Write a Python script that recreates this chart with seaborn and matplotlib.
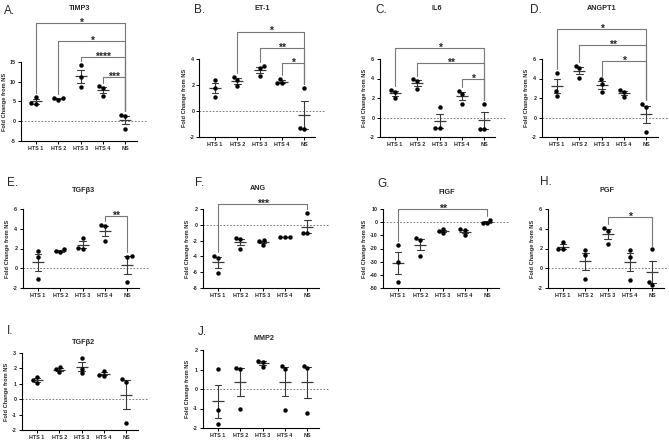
import numpy as np
import pandas as pd
import matplotlib
matplotlib.use('Agg')
import matplotlib.pyplot as plt
import seaborn as sns

groups = ['HTS 1', 'HTS 2', 'HTS 3', 'HTS 4', 'NS']

timp3 = [[6.1, 4.4, 4.5], [5.4, 5.8, 5.8], [14.3, 11.3, 8.6], [8.8, 8.4, 6.4], [1.4, 1.5, -1.9]]
et1 = [[2.4, 1.75, 1.1], [2.6, 2.4, 1.9], [3.5, 3.3, 2.7], [2.45, 2.15, 2.15], [1.8, -1.3, -1.4]]
il6 = [[2.8, 2.6, 2.0], [3.9, 3.7, 2.95], [1.05, -1.1, -1.1], [2.75, 2.4, 1.4], [1.4, -1.15, -1.15]]
angpt1 = [[4.6, 2.7, 2.25], [5.3, 5.05, 4.1], [3.9, 3.45, 2.65], [2.8, 2.6, 2.1], [1.35, 1.1, -1.5]]
tgfb3 = [[1.75, 1.15, -1.05], [1.95, 1.7, 1.65], [3.05, 2.1, 2.0], [4.4, 4.25, 2.75], [1.25, 1.15, -1.42]]
ang = [[-3.95, -4.15, -6.1], [-1.7, -1.8, -3.05], [-1.95, -2.1, -2.5], [-1.57, -1.57, -1.57], [1.45, -1.1, -1.1]]
figf = [[-17.2, -30.0, -45.6], [-12.0, -13.8, -25.6], [-4.9, -6.9, -8.5], [-5.4, -6.0, -10.0], [1.8, -0.5, -1.0]]
pgf = [[2.65, 1.95, 1.9], [1.83, 1.32, -1.05], [4.1, 3.8, 2.47], [1.8, 1.15, -1.15], [1.9, -1.35, -1.65]]
tgfb2 = [[1.42, 1.25, 1.07], [2.06, 1.93, 1.74], [2.69, 1.98, 1.68], [1.85, 1.53, 1.55], [1.29, 1.14, -1.53]]
mmp2 = [[1.03, -1.09, -1.8], [1.09, 1.05, -1.04], [1.45, 1.38, 1.15], [1.18, 1.03, -1.06], [1.2, 1.06, -1.25]]

titles = ['TIMP3', 'ET-1', 'IL6', 'ANGPT1', 'TGF\u03b23', 'ANG', 'FIGF', 'PGF', 'TGF\u03b22', 'MMP2']
letters = ['A.', 'B.', 'C.', 'D.', 'E.', 'F.', 'G.', 'H.', 'I.', 'J.']
datasets = [timp3, et1, il6, angpt1, tgfb3, ang, figf, pgf, tgfb2, mmp2]

yticks_list = [
    [-5, 0, 5, 10, 15], [-2, 0, 2, 4], [-2, 0, 2, 4, 6], [-2, 0, 2, 4, 6],
    [-2, 0, 2, 4, 6], [-8, -6, -4, -2, 0, 2], [-50, -40, -30, -20, -10, 0, 10],
    [-2, 0, 2, 4, 6], [-2, -1, 0, 1, 2, 3], [-2, -1, 0, 1, 2],
]

# significance brackets: (group i, group j, label, bracket height in data units)
brackets = [
    [(0, 4, '*', 24.9), (1, 4, '*', 20.3), (2, 4, '****', 16.3), (3, 4, '***', 11.2)],
    [(1, 4, '*', 6.1), (2, 4, '**', 4.85), (3, 4, '*', 3.7)],
    [(0, 4, '*', 7.1), (1, 4, '**', 5.56), (3, 4, '*', 3.97)],
    [(0, 4, '*', 9.05), (1, 4, '**', 7.4), (2, 4, '*', 5.8)],
    [(3, 4, '**', 5.3)],
    [(0, 4, '***', 2.64)],
    [(0, 4, '**', 9.7)],
    [(2, 4, '*', 5.15)],
    [],
    [],
]

# layout in pixels: (left, top, bottom)
W, H = 669, 443
rects = [(20.5, 62, 141), (199.5, 59, 137), (379.5, 59, 137), (541.5, 59, 137),
         (22.5, 209, 288), (202.5, 209, 288), (382.5, 209, 288), (547.5, 209, 288),
         (21.5, 353, 430), (202.5, 350, 428)]
title_pos = [(80, 9), (262, 9), (437, 9), (602, 9), (83, 191), (258, 188),
             (447, 193), (607, 191), (83, 343), (264, 339)]
letter_pos = [(4, 11), (194, 10), (375, 10), (530, 10), (7, 183), (195, 183),
              (377, 184), (540, 182), (7, 331), (198, 332)]
AX_W = 116

sns.set_theme(style='ticks')
plt.rcParams['font.family'] = ['Liberation Sans', 'DejaVu Sans']
plt.rcParams['axes.unicode_minus'] = False

fig = plt.figure(figsize=(W / 100, H / 100), dpi=100)

for k in range(10):
    data = datasets[k]
    left, top, bottom = rects[k]
    ax = fig.add_axes([left / W, 1 - bottom / H, AX_W / W, (bottom - top) / H])
    df = pd.DataFrame({'group': np.repeat(groups, 3),
                       'value': np.concatenate([np.array(v, float) for v in data])})
    sns.pointplot(data=df, x='group', y='value', order=groups, errorbar='se',
                  capsize=0.3, marker='_', markersize=8, markeredgewidth=0.9,
                  linestyle='none', color='#3a3a3a', err_kws={'linewidth': 0.8}, ax=ax)
    sns.swarmplot(data=df, x='group', y='value', order=groups, color='black',
                  size=3.2, ax=ax, zorder=4)
    yt = yticks_list[k]
    ax.set_ylim(yt[0], yt[-1])
    ax.set_yticks(yt)
    ax.set_xlim(-0.7, 4.5)
    ax.axhline(0, xmin=0, xmax=1.08, color='#666666', lw=0.6, ls=(0, (2, 2)),
               clip_on=False, zorder=1)
    sns.despine(ax=ax)
    for s in ['left', 'bottom']:
        ax.spines[s].set_linewidth(0.8)
        ax.spines[s].set_color('black')
    ax.tick_params(axis='both', direction='out', length=2.2, width=0.7, pad=1.5,
                   labelsize=3.9, color='black')
    for lab in ax.get_xticklabels() + ax.get_yticklabels():
        lab.set_fontweight('bold')
    ax.set_xlabel('')
    ax.set_ylabel('Fold Change from NS', fontsize=4.1, fontweight='bold', labelpad=2)
    pad = 0.05 * (yt[-1] - yt[0])
    for (i, j, lab, lvl) in brackets[k]:
        yi = max(data[i]) + pad
        yj = max(data[j]) + pad
        ax.plot([i, i, j, j], [yi, lvl, lvl, yj], color='#777777', lw=0.8,
                clip_on=False, zorder=2)
        ax.annotate(lab, xy=((i + j) / 2, lvl), xytext=(0, -1.9),
                    textcoords='offset points', ha='center', va='baseline',
                    fontsize=7.5, fontweight='bold', annotation_clip=False)
    tx, ty = title_pos[k]
    fig.text(tx / W, 1 - ty / H, titles[k], ha='center', va='center',
             fontsize=5.2, fontweight='bold')
    lx, ly = letter_pos[k]
    fig.text(lx / W, 1 - ly / H, letters[k], ha='left', va='center', fontsize=8.5)

fig.savefig('out.png', dpi=100)
